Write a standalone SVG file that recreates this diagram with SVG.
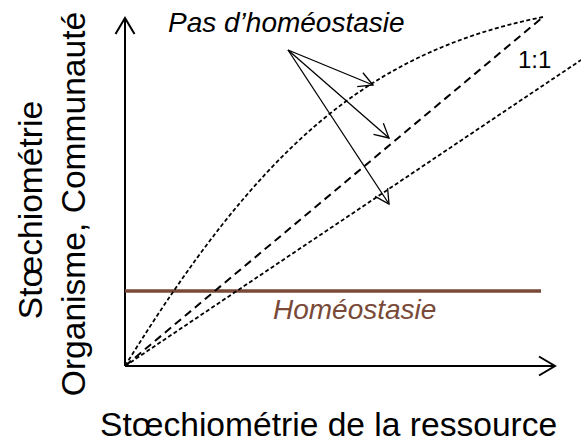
<svg xmlns="http://www.w3.org/2000/svg" width="581" height="443" viewBox="0 0 581 443">
  <style>
    .axis { fill: none; stroke: #000; stroke-width: 2; }
    .curve { fill: none; stroke: #000; stroke-width: 1.8; stroke-dasharray: 4 2.5; }
    .ident { fill: none; stroke: #000; stroke-width: 2; stroke-dasharray: 8 5; }
    .ptr { fill: none; stroke: #000; stroke-width: 1.3; }
    .lbl { font-family: "Liberation Sans", Arial, sans-serif; fill: #000; }
    .it { font-style: italic; font-size: 28px; }
    .brown { fill: #7a4a38; }
  </style>
  <defs>
    <marker id="axhead" markerUnits="userSpaceOnUse" markerWidth="40" markerHeight="40" viewBox="-20 -20 40 40" refX="0" refY="0" orient="auto" overflow="visible">
      <path d="M-16,-9.5 L0,0 L-16,9.5" fill="none" stroke="#000" stroke-width="2"/>
    </marker>
    <marker id="ptrhead" markerUnits="userSpaceOnUse" markerWidth="40" markerHeight="40" viewBox="-20 -20 40 40" refX="0" refY="0" orient="auto" overflow="visible">
      <path d="M-14,-7.5 L0,0 L-14,7.5" fill="none" stroke="#000" stroke-width="1.3"/>
    </marker>
  </defs>

  <g id="axes">
    <line class="axis" x1="125" y1="366" x2="125" y2="18" marker-end="url(#axhead)"/>
    <line class="axis" x1="125" y1="366" x2="555" y2="366" marker-end="url(#axhead)"/>
  </g>

  <g id="homeostasis-line">
    <line x1="125" y1="291" x2="541" y2="291" stroke="#7a4a38" stroke-width="3.4"/>
  </g>

  <g id="curves">
    <path class="curve" d="M125,366 C257,153 363,53 543,17"/>
    <line class="ident" x1="125" y1="366" x2="543" y2="17"/>
    <line class="curve" x1="125" y1="366" x2="581" y2="60"/>
  </g>

  <g id="connectors">
    <line class="ptr" x1="288" y1="50" x2="373" y2="85" marker-end="url(#ptrhead)"/>
    <line class="ptr" x1="288" y1="50" x2="389" y2="138" marker-end="url(#ptrhead)"/>
    <line class="ptr" x1="288" y1="50" x2="389" y2="204" marker-end="url(#ptrhead)"/>
  </g>

  <g id="label-pas">
    <text class="lbl it" x="168" y="32">Pas d’homéostasie</text>
  </g>
  <g id="label-homeo">
    <text class="lbl it brown" x="273" y="319">Homéostasie</text>
  </g>
  <g id="label-ratio">
    <text class="lbl" x="518" y="68" font-size="24">1:1</text>
  </g>
  <g id="label-x">
    <text class="lbl" x="100" y="436" font-size="33.6">Stœchiométrie de la ressource</text>
  </g>
  <g id="label-y">
    <text class="lbl" font-size="33.6" text-anchor="middle" transform="translate(42,210) rotate(-90)">Stœchiométrie</text>
    <text class="lbl" font-size="33.6" text-anchor="middle" transform="translate(85,204) rotate(-90)">Organisme, Communauté</text>
  </g>
</svg>
